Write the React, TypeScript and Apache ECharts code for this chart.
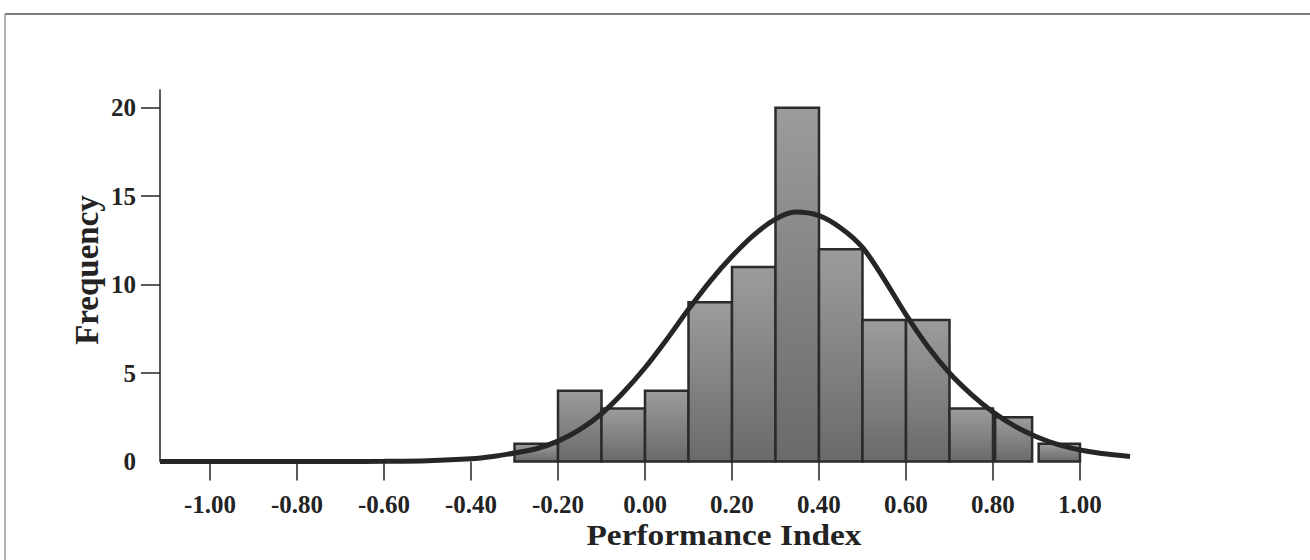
import React, { useEffect, useRef } from "react";
import * as echarts from "echarts";

// Histogram bins (Performance Index) and frequencies
const binStart = [-0.3, -0.2, -0.1, 0.0, 0.1, 0.2, 0.3, 0.4, 0.5, 0.6, 0.7, 0.805, 0.905];
const binEnd = [-0.2, -0.1, 0.0, 0.1, 0.2, 0.3, 0.4, 0.5, 0.6, 0.7, 0.8, 0.89, 1.0];
const frequency = [1, 4, 3, 4, 9, 11, 20, 12, 8, 8, 3, 2.5, 1];

// Fitted normal curve
const curveX = [-1.115, -0.9, -0.7, -0.6, -0.5, -0.4, -0.35, -0.3, -0.25, -0.2, -0.15, -0.1, -0.05, 0.0, 0.05, 0.1, 0.15, 0.2, 0.25, 0.3, 0.345, 0.4, 0.45, 0.5, 0.55, 0.6, 0.65, 0.7, 0.75, 0.8, 0.85, 0.9, 0.95, 1.0, 1.05, 1.115];
const curveY = [0, 0, 0, 0.01, 0.04, 0.15, 0.28, 0.48, 0.72, 1.15, 1.8, 2.7, 3.9, 5.3, 6.9, 8.6, 10.2, 11.6, 12.8, 13.7, 14.1, 13.9, 13.2, 12.1, 10.3, 8.3, 6.5, 5.0, 3.8, 2.8, 2.0, 1.4, 0.95, 0.65, 0.45, 0.28];

// Tick labels
const xTicks = [-1.0, -0.8, -0.6, -0.4, -0.2, 0.0, 0.2, 0.4, 0.6, 0.8, 1.0];
const yTicks = [0, 5, 10, 15, 20];

const FONT = "'Liberation Serif', 'Times New Roman', serif";
const INK = "#232323";

export default function App() {
  const ref = useRef<HTMLDivElement>(null);

  useEffect(() => {
    if (!ref.current) return;
    const chart = echarts.init(ref.current, null, { renderer: "svg" });

    const barFill = new echarts.graphic.LinearGradient(0, 0, 0, 1, [
      { offset: 0, color: "#9c9c9c" },
      { offset: 1, color: "#6a6a6a" },
    ]);

    chart.setOption({
      animation: false,
      backgroundColor: "#ffffff",
      grid: { left: 160, top: 90, width: 970, height: 371.5 },
      xAxis: {
        type: "value",
        min: -1.115,
        max: 1.115,
        axisLine: { show: false, onZero: false },
        splitLine: { show: false },
        axisTick: {
          show: true,
          length: 19,
          customValues: xTicks,
          lineStyle: { color: INK, width: 1.5 },
        },
        axisLabel: {
          customValues: xTicks,
          formatter: (v: number) => v.toFixed(2),
          margin: 30,
          fontFamily: FONT,
          fontWeight: "bold",
          fontSize: 25,
          color: INK,
        },
      },
      yAxis: {
        type: "value",
        min: 0,
        max: 21,
        splitLine: { show: false },
        axisLine: { show: true, onZero: false, lineStyle: { color: INK, width: 1.5 } },
        axisTick: {
          show: true,
          length: 19,
          customValues: [5, 10, 15, 20],
          lineStyle: { color: INK, width: 1.5 },
        },
        axisLabel: {
          customValues: yTicks,
          margin: 24,
          fontFamily: FONT,
          fontWeight: "bold",
          fontSize: 25,
          color: INK,
        },
      },
      graphic: [
        {
          type: "line",
          shape: { x1: 5, y1: 14, x2: 1310, y2: 14 },
          style: { stroke: "#7a7a7a", lineWidth: 2 },
        },
        {
          type: "line",
          shape: { x1: 5, y1: 14, x2: 5, y2: 560 },
          style: { stroke: "#9a9a9a", lineWidth: 1.5 },
        },
        {
          type: "text",
          x: 724,
          y: 535,
          scaleX: 1.15,
          style: {
            text: "Performance Index",
            font: `bold 29px ${FONT}`,
            fill: INK,
            textAlign: "center",
            textVerticalAlign: "middle",
          },
        },
        {
          type: "text",
          x: 87,
          y: 270,
          rotation: Math.PI / 2,
          style: {
            text: "Frequency",
            font: `bold 33px ${FONT}`,
            fill: INK,
            textAlign: "center",
            textVerticalAlign: "middle",
          },
        },
      ],
      series: [
        {
          type: "custom",
          data: binStart.map((s, i) => [s, binEnd[i], frequency[i]]),
          encode: { x: [0, 1], y: 2 },
          z: 2,
          renderItem: (params: any, api: any) => {
            const x0 = api.value(0);
            const x1 = api.value(1);
            const y = api.value(2);
            const p0 = api.coord([x0, y]);
            const p1 = api.coord([x1, 0]);
            return {
              type: "rect",
              shape: { x: p0[0], y: p0[1], width: p1[0] - p0[0], height: p1[1] - p0[1] },
              style: { fill: barFill, stroke: "#2b2b2b", lineWidth: 2.5 },
            };
          },
        },
        {
          type: "line",
          data: curveX.map((x, i) => [x, curveY[i]]),
          smooth: 0.3,
          showSymbol: false,
          z: 5,
          lineStyle: { color: "#262626", width: 5 },
        },
      ],
    });

    return () => chart.dispose();
  }, []);

  return (
    <div
      ref={ref}
      style={{ position: "fixed", left: 0, top: 0, width: 1310, height: 560, background: "#fff" }}
    />
  );
}
